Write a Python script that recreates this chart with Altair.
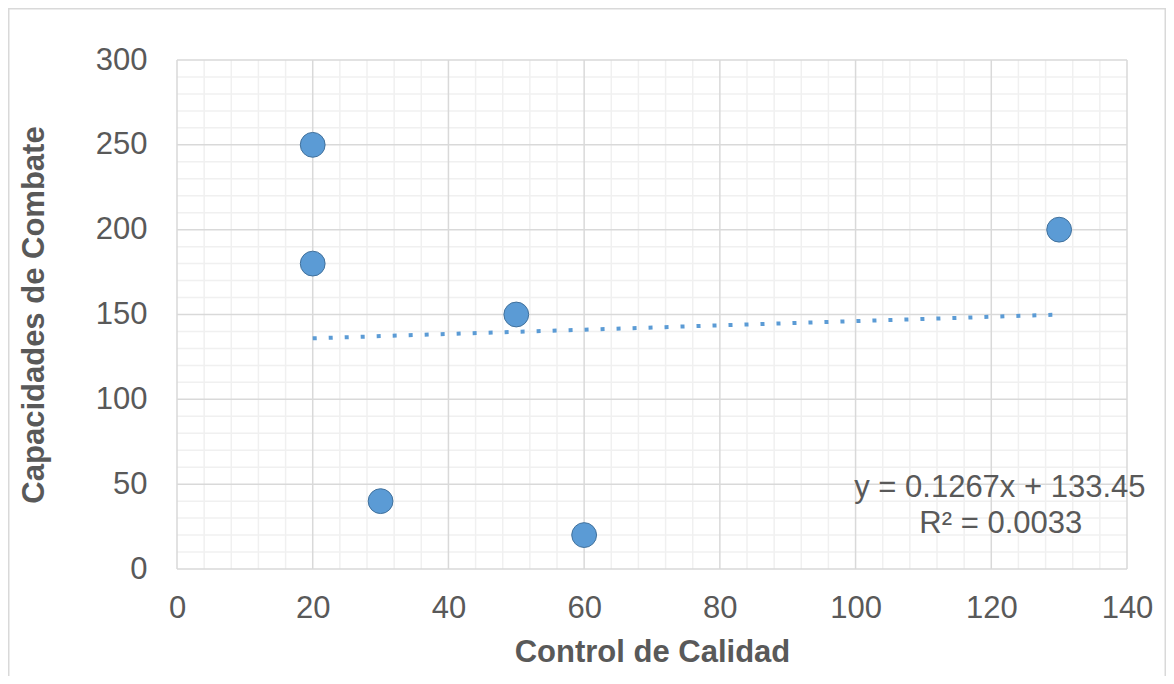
import altair as alt
import pandas as pd

# Data
control_calidad = [20, 20, 30, 50, 60, 130]
capacidades_combate = [250, 180, 40, 150, 20, 200]

x_ticks = [0, 20, 40, 60, 80, 100, 120, 140]
y_ticks = [0, 50, 100, 150, 200, 250, 300]
x_minor = [v for v in range(0, 141, 4) if v % 20]
y_minor = [v for v in range(0, 301, 10) if v % 50]

eq_text = "y = 0.1267x + 133.45"
r2_text = "R² = 0.0033"

FONT = "Liberation Sans"
TXT = "#595959"
FS = 31

pts = pd.DataFrame({"x": control_calidad, "y": capacidades_combate})

xs = alt.Scale(domain=[0, 140], nice=False, zero=False)
ys = alt.Scale(domain=[0, 300], nice=False, zero=False)

xaxis = alt.Axis(values=x_ticks, grid=False, domain=False, ticks=False,
                 labelFont=FONT, labelFontSize=FS, labelColor=TXT, labelPadding=24,
                 labelFlush=False, labelOverlap=False, labelBound=False,
                 title="Control de Calidad", titleFont=FONT, titleFontSize=FS,
                 titleFontWeight="bold", titleColor=TXT, titleBaseline="alphabetic",
                 titleY=92.7)
yaxis = alt.Axis(values=y_ticks, grid=False, domain=False, ticks=False,
                 labelFont=FONT, labelFontSize=FS, labelColor=TXT, labelPadding=30,
                 labelFlush=False, labelOverlap=False, labelBound=False,
                 title="Capacidades de Combate", titleFont=FONT, titleFontSize=FS,
                 titleFontWeight="bold", titleColor=TXT, titleBaseline="alphabetic",
                 titleX=-134)

X = alt.X("x:Q", scale=xs, axis=xaxis)
Y = alt.Y("y:Q", scale=ys, axis=yaxis)

border = alt.Chart(pd.DataFrame({"a": [0]})).mark_rect(
    fill=None, stroke="#D9D9D9", strokeWidth=1.5, clip=False
).encode(x=alt.value(-168.25), x2=alt.value(988.25), y=alt.value(-51.25), y2=alt.value(640))

minor_v = alt.Chart(pd.DataFrame({"x": x_minor})).mark_rule(
    color="#F0F0F0", strokeWidth=1.5).encode(x=X)
minor_h = alt.Chart(pd.DataFrame({"y": y_minor})).mark_rule(
    color="#F0F0F0", strokeWidth=1.5).encode(y=Y)
major_v = alt.Chart(pd.DataFrame({"x": x_ticks})).mark_rule(
    color="#D9D9D9", strokeWidth=1.5).encode(x=X)
major_h = alt.Chart(pd.DataFrame({"y": y_ticks})).mark_rule(
    color="#D9D9D9", strokeWidth=1.5).encode(y=Y)

base = alt.Chart(pts)
points = base.mark_point(filled=True, fill="#5B9BD5", stroke="#41719C",
                         strokeWidth=1, opacity=1, fillOpacity=1, shape="circle",
                         size=616).encode(x=X, y=Y)
trend = base.transform_regression("x", "y").mark_line(
    color="#5B9BD5", strokeWidth=4, strokeDash=[4, 12], strokeCap="butt"
).encode(x=X, y=Y)

lbl = pd.DataFrame({"t": [eq_text, r2_text], "lx": [99.8, 109.4], "ly": [42.6, 21.4]})
labels = alt.Chart(lbl).mark_text(
    font=FONT, fontSize=FS, color=TXT, align="left", baseline="alphabetic", clip=False
).encode(x=alt.X("lx:Q", scale=xs, axis=xaxis), y=alt.Y("ly:Q", scale=ys, axis=yaxis), text="t:N")

chart = alt.layer(border, minor_v, minor_h, major_v, major_h, trend, points, labels).properties(
    width=950, height=509,
    autosize=alt.AutoSizeParams(type="none"),
    padding={"left": 169, "top": 52, "right": 39, "bottom": 107},
    background="white",
).configure_view(stroke=None)

chart.save("out.html", embed_options={"renderer": "svg", "actions": False})
